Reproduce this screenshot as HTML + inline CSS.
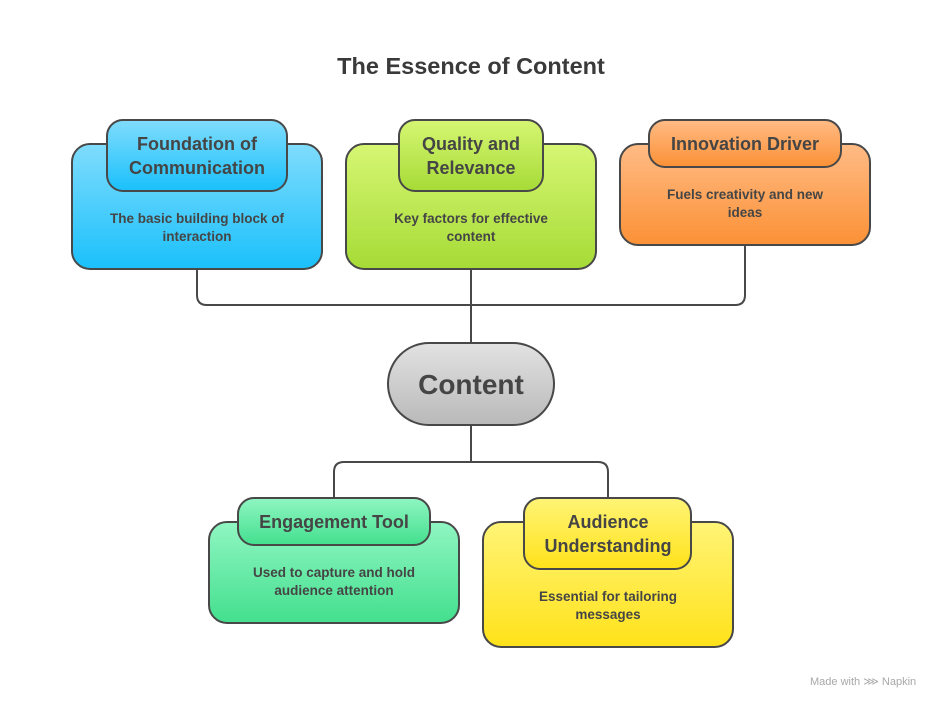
<!DOCTYPE html>
<html><head><meta charset="utf-8"><style>
html,body{margin:0;padding:0;background:#fff;}
svg{display:block;font-family:"Liberation Sans",sans-serif;}
</style></head><body>
<svg width="942" height="708" viewBox="0 0 942 708">
<defs>
<linearGradient id="gb" x1="0" y1="0" x2="0" y2="1"><stop offset="0" stop-color="#80dcfc"/><stop offset="1" stop-color="#1ac0fb"/></linearGradient>
<linearGradient id="gg" x1="0" y1="0" x2="0" y2="1"><stop offset="0" stop-color="#d6f673"/><stop offset="1" stop-color="#a6db36"/></linearGradient>
<linearGradient id="go" x1="0" y1="0" x2="0" y2="1"><stop offset="0" stop-color="#ffbb85"/><stop offset="1" stop-color="#fb9136"/></linearGradient>
<linearGradient id="gm" x1="0" y1="0" x2="0" y2="1"><stop offset="0" stop-color="#90f6c2"/><stop offset="1" stop-color="#43df8e"/></linearGradient>
<linearGradient id="gy" x1="0" y1="0" x2="0" y2="1"><stop offset="0" stop-color="#fff476"/><stop offset="1" stop-color="#ffe21a"/></linearGradient>
<linearGradient id="gc" x1="0" y1="0" x2="0" y2="1"><stop offset="0" stop-color="#e2e2e2"/><stop offset="1" stop-color="#b9b9b9"/></linearGradient>
</defs>
<text x="471" y="74" text-anchor="middle" font-size="23.5" font-weight="bold" fill="#3a3a3a">The Essence of Content</text>
<g fill="none" stroke="#484848" stroke-width="2">
<path d="M197 269 V295 Q197 305 207 305 H735 Q745 305 745 295 V245"/>
<path d="M471 269 V343"/>
<path d="M471 425 V462 M344 462 H598 Q608 462 608 472 V498 M344 462 Q334 462 334 472 V498"/>
</g>
<g stroke="#484848" stroke-width="2">
<rect x="72" y="144" width="250" height="125" rx="18" fill="url(#gb)"/>
<rect x="107" y="120" width="180" height="71" rx="16" fill="url(#gb)"/>
<rect x="346" y="144" width="250" height="125" rx="18" fill="url(#gg)"/>
<rect x="399" y="120" width="144" height="71" rx="16" fill="url(#gg)"/>
<rect x="620" y="144" width="250" height="101" rx="18" fill="url(#go)"/>
<rect x="649" y="120" width="192" height="47" rx="16" fill="url(#go)"/>
<rect x="388" y="343" width="166" height="82" rx="41" fill="url(#gc)"/>
<rect x="209" y="522" width="250" height="101" rx="18" fill="url(#gm)"/>
<rect x="238" y="498" width="192" height="47" rx="16" fill="url(#gm)"/>
<rect x="483" y="522" width="250" height="125" rx="18" fill="url(#gy)"/>
<rect x="524" y="498" width="167" height="71" rx="16" fill="url(#gy)"/>
</g>
<g fill="#454545" font-weight="bold" text-anchor="middle">
<text font-size="18"><tspan x="197" y="150">Foundation of</tspan><tspan x="197" y="174">Communication</tspan></text>
<text font-size="13.5"><tspan x="197" y="223">The basic building block of</tspan><tspan x="197" y="241">interaction</tspan></text>
<text font-size="18"><tspan x="471" y="150">Quality and</tspan><tspan x="471" y="174">Relevance</tspan></text>
<text font-size="13.5"><tspan x="471" y="223">Key factors for effective</tspan><tspan x="471" y="241">content</tspan></text>
<text font-size="18" x="745" y="150">Innovation Driver</text>
<text font-size="13.5"><tspan x="745" y="199">Fuels creativity and new</tspan><tspan x="745" y="217">ideas</tspan></text>
<text font-size="28" x="471" y="394">Content</text>
<text font-size="18" x="334" y="528">Engagement Tool</text>
<text font-size="13.5"><tspan x="334" y="577">Used to capture and hold</tspan><tspan x="334" y="595">audience attention</tspan></text>
<text font-size="18"><tspan x="608" y="528">Audience</tspan><tspan x="608" y="552">Understanding</tspan></text>
<text font-size="13.5"><tspan x="608" y="601">Essential for tailoring</tspan><tspan x="608" y="619">messages</tspan></text>
</g>
<text x="810" y="685" font-size="11" fill="#a8a8a8">Made with ⋙ Napkin</text>
</svg>
</body></html>
